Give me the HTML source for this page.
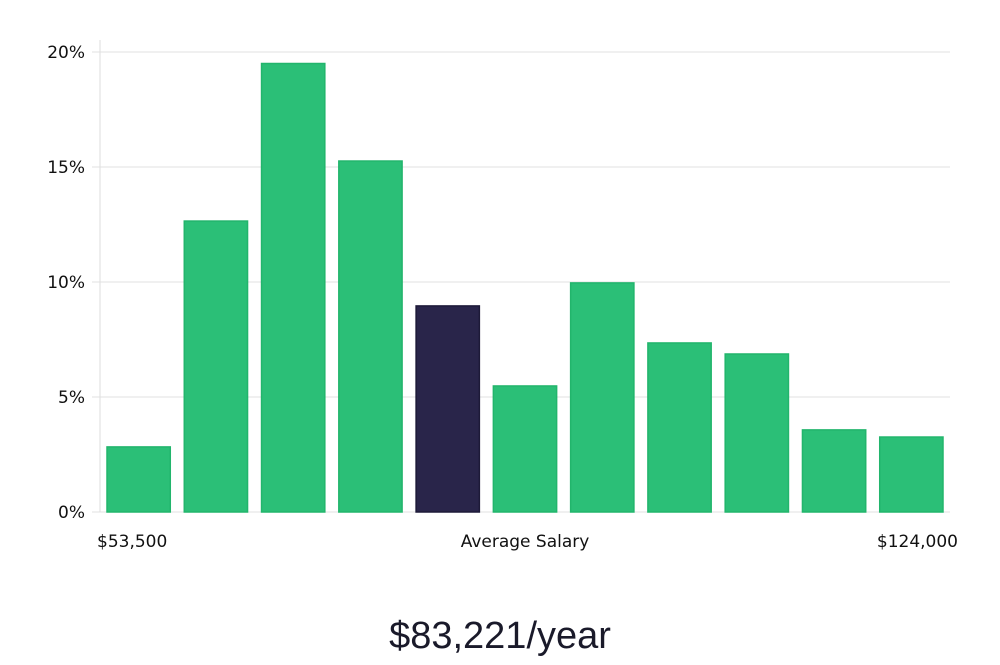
<!DOCTYPE html>
<html><head><meta charset="utf-8"><style>
body{margin:0;background:#fff;width:1000px;height:660px;overflow:hidden}
svg text{font-family:"DejaVu Sans","Liberation Sans",sans-serif}
</style></head><body>
<svg id="chart" width="1000" height="660" xmlns="http://www.w3.org/2000/svg">
<g id="grid"></g><g id="bars"></g><g id="labels"></g>
<text x="500" y="648" text-anchor="middle" font-size="38" fill="#1a1a2a" style="font-family:'Liberation Sans',sans-serif;font-weight:300">$83,221/year</text>
</svg>
<script>
const categories=["b1","b2","b3","b4","b5","b6","b7","b8","b9","b10","b11"];
const values=[2.83,12.65,19.5,15.26,8.96,5.48,9.96,7.35,6.87,3.57,3.26];
const highlight=[false,false,false,false,true,false,false,false,false,false,false];
const yTicks=[0,5,10,15,20];
const yTickLabels=["0%","5%","10%","15%","20%"];
const xLabels=["$53,500","Average Salary","$124,000"];
const NS="http://www.w3.org/2000/svg";
const x0=100,x1=950,y0=512,y1=52,yMax=20;
const y=v=>y0-(v/yMax)*(y0-y1);
const slot=(x1-x0)/categories.length;
const x=i=>x0+i*slot;
function mk(t,a,p){const e=document.createElementNS(NS,t);for(const k in a)e.setAttribute(k,a[k]);p.appendChild(e);return e;}
const grid=document.getElementById('grid'),bars=document.getElementById('bars'),labels=document.getElementById('labels');
const ax=mk('line',{x1:x0,x2:x0,y1:40,y2:y0,stroke:'#ddd'},grid);


yTicks.forEach((t,i)=>{
  const l=mk('line',{x1:x0-8,x2:x1,y1:y(t),y2:y(t),stroke:'#e0e0e0'},grid);
  
  
  const tx=mk('text',{x:85,y:y(t)+6,'text-anchor':'end','font-size':17,fill:'#111'},labels);
  tx.textContent=yTickLabels[i];
  
  
});
values.forEach((v,i)=>{
  const r=mk('rect',{x:x(i)+7,y:y(v),width:slot-14,height:y0-y(v),fill:highlight[i]?'#29254a':'#2bbf77',stroke:highlight[i]?'#1d1a38':'#22b56c','stroke-width':1.5},bars);
  
  
});
const xl=[[97,'start'],[525,'middle'],[958,'end']];
xLabels.forEach((s,i)=>{
  const t=mk('text',{x:xl[i][0],y:547,'text-anchor':xl[i][1],'font-size':17,fill:'#111'},labels);
  t.textContent=s;
  
  
});
</script>
</body></html>
